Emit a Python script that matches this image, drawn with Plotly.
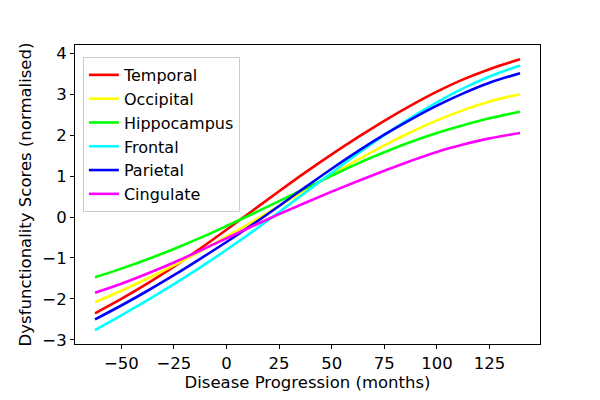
import plotly.graph_objects as go

months = [-62.5, -50, -37.5, -25, -12.5, 0, 12.5, 25, 37.5, 50, 62.5, 75, 87.5, 100, 112.5, 125, 139.5]

temporal    = [-2.35, -2.00, -1.62, -1.21, -0.77, -0.31, 0.16, 0.63, 1.09, 1.53, 1.95, 2.35, 2.72, 3.06, 3.36, 3.61, 3.85]
occipital   = [-2.08, -1.80, -1.50, -1.18, -0.84, -0.48, -0.11, 0.27, 0.65, 1.03, 1.40, 1.75, 2.07, 2.36, 2.61, 2.82, 3.00]
hippocampus = [-1.47, -1.26, -1.03, -0.78, -0.51, -0.22, 0.08, 0.39, 0.70, 1.01, 1.31, 1.58, 1.83, 2.05, 2.24, 2.41, 2.57]
frontal     = [-2.76, -2.40, -2.03, -1.64, -1.23, -0.80, -0.35, 0.12, 0.60, 1.08, 1.55, 2.00, 2.42, 2.80, 3.14, 3.43, 3.70]
parietal    = [-2.50, -2.16, -1.80, -1.42, -1.02, -0.61, -0.18, 0.27, 0.73, 1.18, 1.61, 2.01, 2.38, 2.72, 3.02, 3.28, 3.51]
cingulate   = [-1.85, -1.63, -1.38, -1.11, -0.82, -0.52, -0.22, 0.07, 0.35, 0.62, 0.88, 1.13, 1.37, 1.59, 1.77, 1.92, 2.05]

series = [
    ("Temporal", temporal, "#ff0000"),
    ("Occipital", occipital, "#ffff00"),
    ("Hippocampus", hippocampus, "#00ff00"),
    ("Frontal", frontal, "#00ffff"),
    ("Parietal", parietal, "#0000ff"),
    ("Cingulate", cingulate, "#ff00ff"),
]

x_ticks = [-50, -25, 0, 25, 50, 75, 100, 125]
y_ticks = [-3, -2, -1, 0, 1, 2, 3, 4]

fig = go.Figure()
for name, vals, col in series:
    fig.add_trace(go.Scatter(x=months, y=vals, name=name, mode="lines",
                             line=dict(color=col, width=2.6, shape="spline", smoothing=1.0)))

font = dict(family="DejaVu Sans", size=16.5, color="black")
legend_font = dict(family="DejaVu Sans", size=16, color="black")
axis_common = dict(showline=True, linecolor="black", linewidth=1.1, mirror=True,
                   ticks="outside", ticklen=4, tickwidth=1.1, tickcolor="black",
                   showgrid=False, zeroline=False, tickfont=font)

fig.update_layout(
    width=600, height=400,
    margin=dict(l=75, r=60, t=45, b=56),
    paper_bgcolor="white", plot_bgcolor="white",
    font=font,
    xaxis=dict(range=[-72, 149], tickvals=x_ticks,
               ticktext=[str(v).replace("-", "\u2212") for v in x_ticks],
               title=dict(text="Disease Progression (months)", font=font, standoff=2),
               **axis_common),
    yaxis=dict(range=[-3.1, 4.2], tickvals=y_ticks,
               ticktext=[str(v).replace("-", "\u2212") for v in y_ticks],
               title=dict(text="Dysfunctionality Scores (normalised)", font=font, standoff=6),
               **axis_common),
    legend=dict(x=0.017, y=0.96, xanchor="left", yanchor="top",
                bgcolor="rgba(255,255,255,0.8)", bordercolor="#cccccc", borderwidth=1,
                font=legend_font, tracegroupgap=0, itemwidth=30),
    showlegend=True,
)

fig.write_html("out.html")
